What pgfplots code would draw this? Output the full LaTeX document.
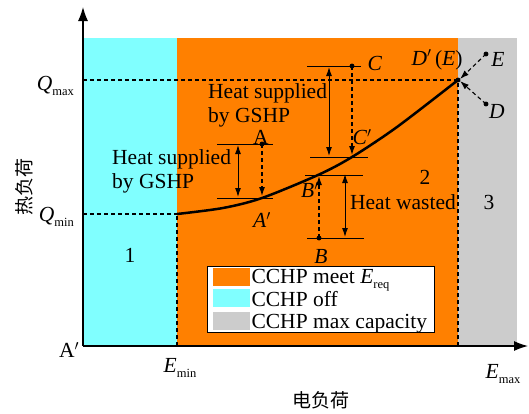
\documentclass[border=0pt]{standalone}
\usepackage{pgfplots}
\pgfplotsset{compat=1.18}
\usetikzlibrary{arrows.meta}
\usepackage{fontspec}
\setmainfont{Liberation Serif}
\newfontfamily\cjk{Noto Sans CJK SC}
\definecolor{mycyan}{RGB}{128,255,255}
\definecolor{myorange}{RGB}{255,128,0}
\definecolor{mygray}{RGB}{204,204,204}
\newcommand\sub[1]{\raisebox{-0.22em}{\fontsize{12.5bp}{13bp}\selectfont #1}}
\tikzset{
  dsh/.style={black, line width=1.1bp, dash pattern=on 4bp off 3bp},
  hl/.style={black, line width=1bp},
  ah/.style={-{Latex[length=9bp,width=6bp]}},
  dah/.style={{Latex[length=9bp,width=6bp]}-{Latex[length=9bp,width=6bp]}},
}
\begin{document}
\begin{tikzpicture}[font=\fontsize{21.5bp}{24.5bp}\selectfont]
\begin{axis}[
  x=1bp, y=1bp, xmin=0, xmax=445, ymin=0, ymax=339,
  axis lines=left, ticks=none, clip=false, axis on top,
  axis line style={line width=1.2bp, -{Latex[length=14bp,width=10bp]}},
  legend style={at={(axis cs:352,13)}, anchor=south east, draw=black, line width=0.8bp,
    font=\fontsize{21.5bp}{23bp}\selectfont, row sep=2.5bp, inner xsep=6bp, inner ysep=1.5bp,
    nodes={inner sep=1.5bp}, cells={anchor=west}},
  legend image code/.code={\fill[#1] (0bp,-8bp) rectangle (37bp,10bp);},
]
% regions
\addplot[fill=myorange, draw=none] coordinates {(94,0)(94,308)(375,308)(375,0)} -- cycle;
\addlegendentry{CCHP meet \textit{E}\sub{req}}
\addplot[fill=mycyan, draw=none] coordinates {(0,0)(0,308)(94,308)(94,0)} -- cycle;
\addlegendentry{CCHP off}
\addplot[fill=mygray, draw=none] coordinates {(375,0)(375,308)(434,308)(434,0)} -- cycle;
\addlegendentry{CCHP max capacity}
% dashed guides
\addplot[dsh, forget plot] coordinates {(0,266)(375,266)};
\addplot[dsh, forget plot] coordinates {(0,132)(94,132)};
\addplot[dsh, forget plot] coordinates {(94,0)(94,132)};
\addplot[dsh, forget plot] coordinates {(375,0)(375,266)};
% curve
\addplot[black, line width=2.5bp, smooth, forget plot] coordinates {(94,132)(140,138)(179,148)(235,171)(269,189)(314,219)(375,266)};
% horizontal reference lines
\addplot[hl, forget plot] coordinates {(134,202)(190,202)};
\addplot[hl, forget plot] coordinates {(134,148)(190,148)};
\addplot[hl, forget plot] coordinates {(224,280)(278,280)};
\addplot[hl, forget plot] coordinates {(227,189)(285,189)};
\addplot[hl, forget plot] coordinates {(224,108)(281,108)};
\addplot[hl, forget plot] coordinates {(222,171)(280,171)};
% double arrows
\addplot[hl, dah, forget plot] coordinates {(155,201)(155,149)};
\addplot[hl, dah, forget plot] coordinates {(246,279)(246,190)};
\addplot[hl, dah, forget plot] coordinates {(262,172)(262,109)};
% dashed arrows
\addplot[dsh, ah, forget plot] coordinates {(179,202)(179,150)};
\addplot[dsh, ah, forget plot] coordinates {(269,280)(269,191)};
\addplot[dsh, ah, forget plot] coordinates {(236,108)(236,170)};
\addplot[dsh, ah, forget plot] coordinates {(403,292)(377,267)};
\addplot[dsh, ah, forget plot] coordinates {(403,242)(377,265)};
% points
\addplot[only marks, mark=*, mark size=2.2bp, black, forget plot] coordinates {(179,202)(269,280)(236,108)(403,292)(403,242)(375,266)};
% labels
\node at (axis cs:178,209) {A};
\node at (axis cs:179,126) {\textit{A}$'$};
\node at (axis cs:227,156) {\textit{B}$'$};
\node at (axis cs:238,90) {\textit{B}};
\node at (axis cs:292,283) {\textit{C}};
\node at (axis cs:279,209) {\textit{C}$'$};
\node at (axis cs:354,286) {\textit{D}$'$\,(\textit{E})};
\node at (axis cs:415,287) {\textit{E}};
\node at (axis cs:414,235) {\textit{D}};
\node at (axis cs:47,91) {1};
\node at (axis cs:342,169) {2};
\node at (axis cs:406,144) {3};
\node[anchor=west, align=left, inner sep=0pt] at (axis cs:29,174.5) {Heat supplied\\by GSHP};
\node[anchor=west, align=left, inner sep=0pt] at (axis cs:125,240.5) {Heat supplied\\by GSHP};
\node at (axis cs:320,144) {Heat wasted};
\node[anchor=east, inner sep=0pt] at (axis cs:-9,260) {\textit{Q}\sub{max}};
\node[anchor=east, inner sep=0pt] at (axis cs:-9,129) {\textit{Q}\sub{min}};
\node at (axis cs:-14,-4) {A$'$};
\node at (axis cs:97,-22) {\textit{E}\sub{min}};
\node at (axis cs:420,-28) {\textit{E}\sub{max}};
\node at (axis cs:238,-54) {\fontsize{19bp}{22bp}\selectfont\cjk 电负荷};
\node[rotate=90] at (axis cs:-59,159) {\fontsize{19bp}{22bp}\selectfont\cjk 热负荷};
\path (axis cs:-83,-67) rectangle (axis cs:446,346);
\end{axis}
\end{tikzpicture}
\end{document}
